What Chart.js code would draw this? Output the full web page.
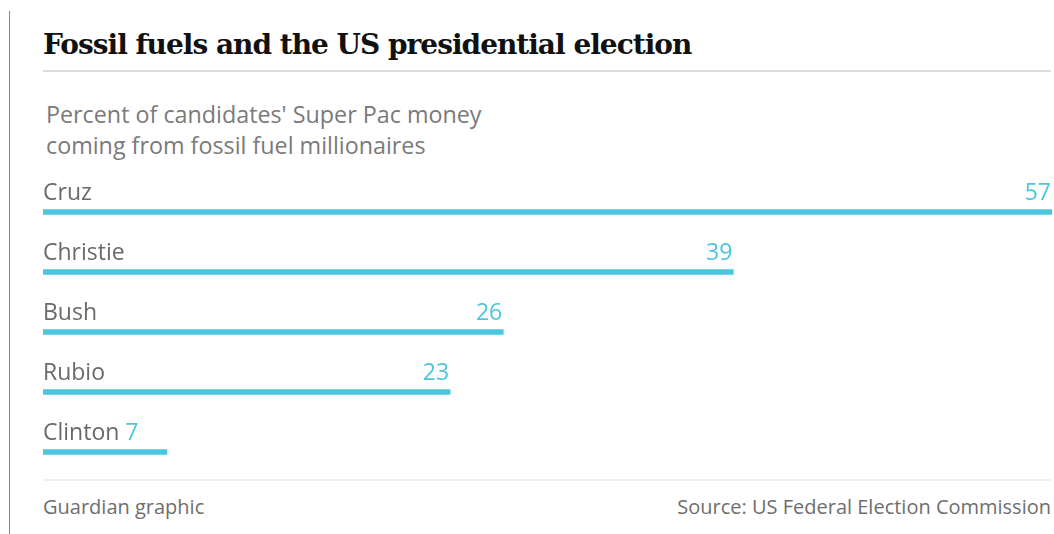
<!DOCTYPE html>
<html>
<head>
<meta charset="utf-8">
<script src="https://cdn.jsdelivr.net/npm/chart.js@4"></script>
<style>
  body { margin: 0; background: #fff; width: 1054px; height: 534px; position: relative; overflow: hidden; }
  .edge { position: absolute; left: 9px; top: 11px; bottom: 0; width: 1px; background: #4a8ee0; }
  h1 { position: absolute; left: 43px; top: 31px; margin: 0; font: bold 28px/28px "DejaVu Serif", serif; color: #111; letter-spacing: -1px; white-space: nowrap; }
  .rule { position: absolute; left: 43px; width: 1008px; height: 2px; }
  .sub { position: absolute; left: 46px; top: 99px; margin: 0; font: 23.3px/31px "Open Sans", sans-serif; color: #7a7a7a; }
  .foot { position: absolute; top: 497px; font: 20px/20px "Open Sans", sans-serif; color: #6e6e6e; }
  #wrap { position: absolute; left: 43px; top: 182px; width: 1009px; height: 300px; }
</style>
</head>
<body>
<div class="edge"></div>
<h1>Fossil fuels and the US presidential election</h1>
<div class="rule" style="top:70px;background:#dcdcdc"></div>
<p class="sub">Percent of candidates' Super Pac money<br>coming from fossil fuel millionaires</p>
<div class="rule" style="top:479px;background:#efefef"></div>
<div class="foot" style="left:43px">Guardian graphic</div>
<div class="foot" style="right:3px">Source: US Federal Election Commission</div>
<div id="wrap"><canvas id="chart"></canvas></div>

<script>
const candidates = ['Cruz', 'Christie', 'Bush', 'Rubio', 'Clinton'];
const shares = [57, 39, 26, 23, 7];
const maxShare = 57;

const barColor = '#4bc6df';
const nameColor = '#6a6a6a';
const labelFont = '23px "Open Sans", sans-serif';

// names sit above each bar on the left, values right-aligned at the bar end
// (short bars get the value right after the name instead)
const barLabels = {
  id: 'barLabels',
  afterDatasetsDraw(chart) {
    const ctx = chart.ctx;
    const left = chart.chartArea.left;
    const bars = chart.getDatasetMeta(0).data;
    ctx.save();
    ctx.font = labelFont;
    ctx.textBaseline = 'alphabetic';
    bars.forEach((bar, i) => {
      const y = bar.y - 12;
      const name = candidates[i];
      const val = String(shares[i]);
      ctx.fillStyle = nameColor;
      ctx.textAlign = 'left';
      ctx.fillText(name, left, y);
      const nameW = ctx.measureText(name).width;
      const valW = ctx.measureText(val).width;
      ctx.fillStyle = barColor;
      if (bar.x - valW < left + nameW + 40) {
        ctx.fillText(val, left + nameW + 6, y);
      } else {
        ctx.textAlign = 'right';
        ctx.fillText(val, bar.x - 1, y);
      }
    });
    ctx.restore();
  }
};

function initChart() {
  const ctx = document.getElementById('chart').getContext('2d');
  new Chart(ctx, {
    type: 'bar',
    data: {
      labels: candidates,
      datasets: [{
        data: shares,
        backgroundColor: barColor,
        borderWidth: 0,
        barThickness: 5
      }]
    },
    options: {
      indexAxis: 'y',
      responsive: true,
      maintainAspectRatio: false,
      animation: false,
      layout: { padding: 0 },
      plugins: {
        legend: { display: false },
        tooltip: { enabled: false }
      },
      scales: {
        x: { display: false, min: 0, max: maxShare },
        y: { display: false }
      }
    },
    plugins: [barLabels]
  });
}

initChart();
</script>
</body>
</html>
